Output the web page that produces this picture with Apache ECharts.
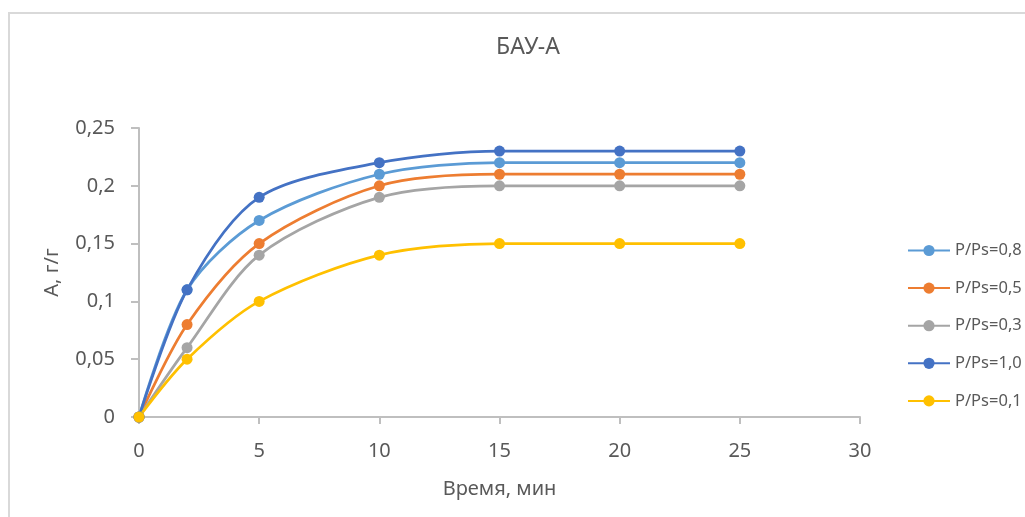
<!DOCTYPE html>
<html>
<head>
<meta charset="utf-8">
<script src="https://cdn.jsdelivr.net/npm/echarts@6/dist/echarts.min.js"></script>
<style>
html,body{margin:0;padding:0;background:#fff;}
#chart{width:1025px;height:517px;}
</style>
</head>
<body>
<div id="chart"></div>
<script>
const titleText = 'БАУ-А';
const xName = 'Время, мин';
const yName = 'А, г/г';
const times = [0, 2, 5, 10, 15, 20, 25];
const seriesNames = ['P/Ps=0,8', 'P/Ps=0,5', 'P/Ps=0,3', 'P/Ps=1,0', 'P/Ps=0,1'];
const s08 = [0, 0.11, 0.17, 0.21, 0.22, 0.22, 0.22];
const s05 = [0, 0.08, 0.15, 0.20, 0.21, 0.21, 0.21];
const s03 = [0, 0.06, 0.14, 0.19, 0.20, 0.20, 0.20];
const s10 = [0, 0.11, 0.19, 0.22, 0.23, 0.23, 0.23];
const s01 = [0, 0.05, 0.10, 0.14, 0.15, 0.15, 0.15];
const colors = ['#5B9BD5', '#ED7D31', '#A5A5A5', '#4472C4', '#FFC000'];

const allValues = [s08, s05, s03, s10, s01];
const font = 'Noto Sans';
const textColor = '#595959';

const chart = echarts.init(document.getElementById('chart'));
chart.setOption({
  backgroundColor: '#fff',
  animation: false,
  graphic: [{
    type: 'rect',
    shape: {x: 9, y: 13, width: 2000, height: 2000},
    style: {fill: 'none', stroke: '#d9d9d9', lineWidth: 2},
    z: -10
  }],
  title: {
    text: titleText,
    left: 523, top: 31, textAlign: 'center',
    textStyle: {fontFamily: font, fontSize: 23, fontWeight: 'normal', color: textColor}
  },
  legend: {
    orient: 'vertical',
    left: 902, top: 237,
    itemWidth: 42, itemHeight: 14, itemGap: 20.6,
    data: seriesNames,
    textStyle: {fontFamily: font, fontSize: 16.5, color: textColor}
  },
  grid: {left: 139, right: 165, top: 128, bottom: 100},
  xAxis: {
    type: 'value', min: 0, max: 30, interval: 5,
    name: xName, nameLocation: 'middle', nameGap: 62,
    nameTextStyle: {fontFamily: font, fontSize: 20, color: textColor},
    axisLine: {show: true, lineStyle: {color: '#bfbfbf', width: 2}},
    axisTick: {show: true, length: 7, lineStyle: {color: '#bfbfbf', width: 2}},
    axisLabel: {fontFamily: font, fontSize: 20, color: textColor, margin: 24},
    splitLine: {show: false}
  },
  yAxis: {
    type: 'value', min: 0, max: 0.25, interval: 0.05,
    name: yName, nameLocation: 'middle', nameGap: 77, nameRotate: 90,
    nameTextStyle: {fontFamily: font, fontSize: 20, color: textColor},
    axisLine: {show: true, lineStyle: {color: '#bfbfbf', width: 2}},
    axisTick: {show: true, length: 8, lineStyle: {color: '#bfbfbf', width: 2}},
    axisLabel: {fontFamily: font, fontSize: 20, color: textColor, margin: 24,
      formatter: v => String(+v.toFixed(2)).replace('.', ',')},
    splitLine: {show: false}
  },
  series: seriesNames.map((n, i) => ({
    name: n, type: 'line', smooth: 0.3,
    data: times.map((t, j) => [t, allValues[i][j]]),
    color: colors[i],
    symbol: 'circle', symbolSize: 11,
    lineStyle: {width: 2.75, color: colors[i]},
    itemStyle: {color: colors[i]}
  }))
});
</script>
</body>
</html>
